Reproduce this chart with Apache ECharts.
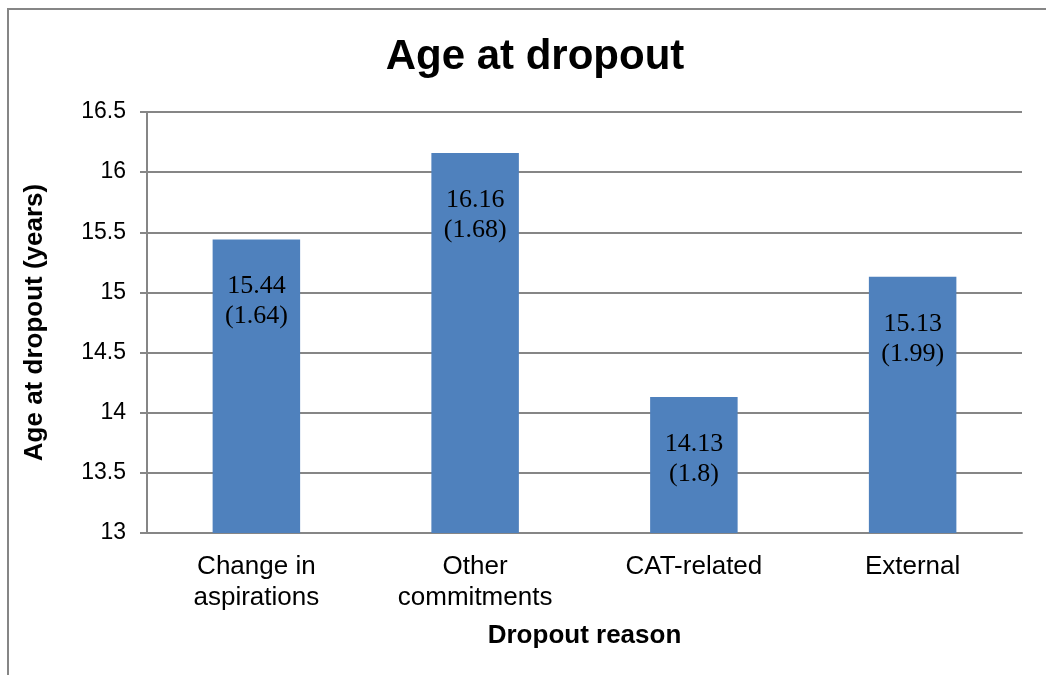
<!DOCTYPE html>
<html><head><meta charset="utf-8">
<script src="https://cdn.jsdelivr.net/npm/echarts@6/dist/echarts.min.js"></script>
<style>html,body{margin:0;padding:0;background:#fff}#c{width:1046px;height:675px}</style>
</head><body><div id="c"></div>
<script>
const categories = ['Change in\naspirations', 'Other\ncommitments', 'CAT-related', 'External'];
const means = [15.44, 16.16, 14.13, 15.13];
const sds = ['1.64', '1.68', '1.8', '1.99'];
const yTicks = [13, 13.5, 14, 14.5, 15, 15.5, 16, 16.5];

const chart = echarts.init(document.getElementById('c'), null, {renderer: 'canvas'});
chart.setOption({
  animation: false,
  backgroundColor: '#fff',
  graphic: [{
    type: 'rect', shape: {x: 8, y: 9, width: 1100, height: 700},
    style: {fill: 'none', stroke: '#868686', lineWidth: 2}, silent: true
  }],
  title: {
    text: 'Age at dropout', left: 530, top: 31, textAlign: 'center',
    textStyle: {fontFamily: 'Liberation Sans', fontSize: 42, fontWeight: 'bold', color: '#000'}
  },
  grid: {left: 147, right: 24, top: 112, bottom: 142},
  xAxis: {
    type: 'category', data: categories,
    name: 'Dropout reason', nameLocation: 'middle', nameGap: 90,
    nameTextStyle: {fontFamily: 'Liberation Sans', fontSize: 26, fontWeight: 'bold', color: '#000'},
    axisLine: {lineStyle: {color: '#868686', width: 2}},
    axisTick: {show: false},
    axisLabel: {fontFamily: 'Liberation Sans', fontSize: 26, color: '#000', margin: 18, lineHeight: 31, interval: 0}
  },
  yAxis: {
    type: 'value', min: yTicks[0], max: yTicks[yTicks.length - 1], interval: 0.5,
    name: 'Age at dropout (years)', nameLocation: 'middle', nameGap: 99,
    nameTextStyle: {fontFamily: 'Liberation Sans', fontSize: 26, fontWeight: 'bold', color: '#000'},
    axisLine: {show: true, lineStyle: {color: '#868686', width: 2}},
    axisTick: {show: true, length: 7, lineStyle: {color: '#868686', width: 2}},
    axisLabel: {fontFamily: 'Liberation Sans', fontSize: 23, color: '#000', margin: 21, padding: [4, 0, 0, 0]},
    splitLine: {lineStyle: {color: '#868686', width: 2}}
  },
  series: [{
    type: 'bar', barWidth: '40%',
    data: means,
    itemStyle: {color: '#4F81BD'},
    label: {
      show: true, position: 'insideTop', distance: 32,
      fontFamily: 'Liberation Serif', fontSize: 26, color: '#000', lineHeight: 30,
      formatter: p => p.value.toFixed(2) + '\n(' + sds[p.dataIndex] + ')'
    }
  }]
});
</script></body></html>
